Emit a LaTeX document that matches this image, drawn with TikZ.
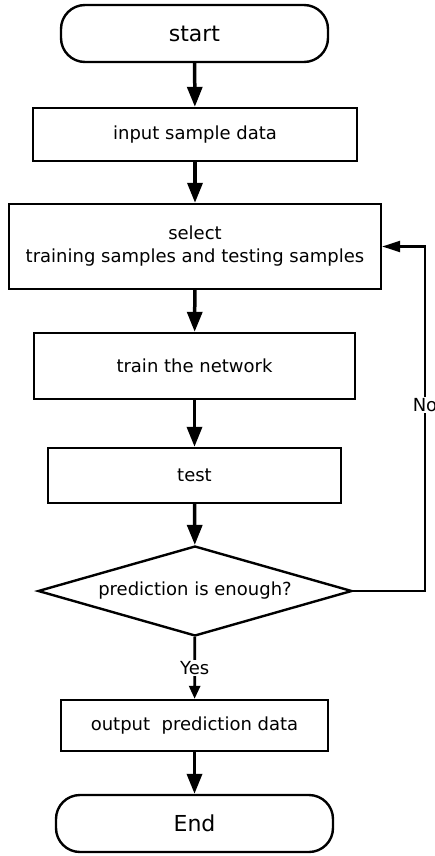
\documentclass[tikz,border=0pt]{standalone}
\usepackage{fontspec}
\setmainfont{DejaVu Sans}
\usetikzlibrary{arrows.meta,shapes.geometric}

\begin{document}
\begin{tikzpicture}[x=1pt,y=-1pt,
  font=\fontsize{18}{23}\selectfont,
  box/.style={draw,line width=2.4pt,rectangle,inner sep=0pt,align=center},
  term/.style={box,rounded corners=24pt,font=\fontsize{22}{26}\selectfont},
  decision/.style={draw,line width=2.4pt,diamond,aspect=3.49,inner sep=0pt},
  flow/.style={line width=3.5pt,-{Triangle[length=20pt,width=15pt]}},
  yesline/.style={line width=2.8pt,-{Triangle[length=13pt,width=11pt]}},
  loopline/.style={line width=2.2pt,-{Triangle[length=18pt,width=11pt]}},
  tag/.style={fill=white,inner sep=1pt}]
  % page frame
  \useasboundingbox (0,0) rectangle (435,856);

  % process nodes
  \node[term,minimum width=267pt,minimum height=57pt] (start) at (194.5,33.5) {start};
  \node[box,minimum width=324pt,minimum height=53pt] (input) at (195,134.5) {input sample data};
  \node[box,minimum width=372pt,minimum height=85pt] (select) at (195,246.5) {select\\training samples and testing samples};
  \node[box,minimum width=321pt,minimum height=66pt] (train) at (194.5,366) {train the network};
  \node[box,minimum width=293pt,minimum height=55pt] (test) at (194.5,475.5) {test};
  \node[decision,minimum width=314pt,minimum height=90pt] (dec) at (195,591) {prediction is enough?};
  \node[box,minimum width=267pt,minimum height=51pt] (output) at (194.5,725.5) {output\ \ prediction data};
  \node[term,minimum width=277pt,minimum height=57pt] (end) at (194.5,823.5) {End};

  % main flow
  \draw[flow] (start) -- (input);
  \draw[flow] (input) -- (select);
  \draw[flow] (select) -- (train);
  \draw[flow] (train) -- (test);
  \draw[flow] (test) -- (dec);
  \draw[yesline] (dec) -- node[tag,pos=0.5] {Yes} (output);
  \draw[flow] (output) -- (end);

  % retry loop
  \coordinate (back) at (425,591);
  \draw[loopline] (dec.east) -- (back) |- node[tag,pos=0.27] {No} (select.east);
\end{tikzpicture}
\end{document}
